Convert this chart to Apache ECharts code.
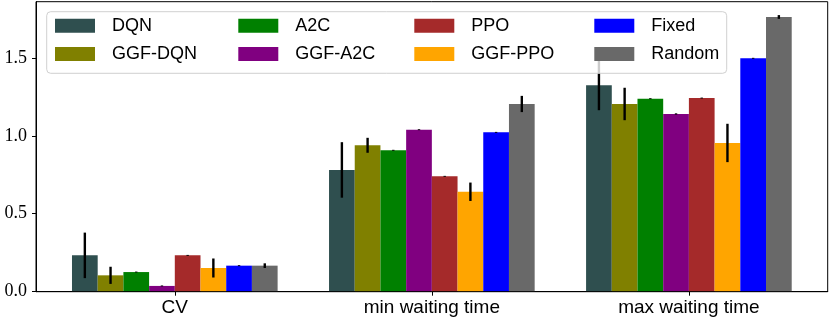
<!DOCTYPE html>
<html>
<head>
<meta charset="utf-8">
<script src="https://cdn.jsdelivr.net/npm/echarts@6/dist/echarts.min.js"></script>
<style>html,body{margin:0;padding:0;background:#fff;}#c{width:830px;height:323px;}</style>
</head>
<body>
<div id="c"></div>
<script>
// ---- data ----
const categories = ['CV', 'min waiting time', 'max waiting time'];
const methods = ['DQN', 'GGF-DQN', 'A2C', 'GGF-A2C', 'PPO', 'GGF-PPO', 'Fixed', 'Random'];
const yTicks = [0, 0.5, 1.0, 1.5];
const dqn      = [0.233, 0.781, 1.324];
const dqnErr   = [0.146, 0.178, 0.160];
const ggfDqn   = [0.105, 0.939, 1.204];
const ggfDqnErr= [0.055, 0.048, 0.104];
const a2c      = [0.126, 0.907, 1.238];
const a2cErr   = [0.003, 0.003, 0.003];
const ggfA2c   = [0.037, 1.039, 1.140];
const ggfA2cErr= [0.003, 0.003, 0.004];
const ppo      = [0.233, 0.740, 1.242];
const ppoErr   = [0.003, 0.003, 0.003];
const ggfPpo   = [0.152, 0.641, 0.954];
const ggfPpoErr= [0.061, 0.059, 0.123];
const fixed    = [0.167, 1.022, 1.497];
const fixedErr = [0.003, 0.003, 0.003];
const random   = [0.167, 1.204, 1.762];
const randomErr= [0.015, 0.052, 0.012];

const values = [dqn, ggfDqn, a2c, ggfA2c, ppo, ggfPpo, fixed, random];
const errors = [dqnErr, ggfDqnErr, a2cErr, ggfA2cErr, ppoErr, ggfPpoErr, fixedErr, randomErr];
const colors = ['#2F4F4F', '#808000', '#008000', '#800080', '#A52A2A', '#FFA500', '#0000FF', '#696969'];

// ---- layout ----
const BAR_W = 0.1;
const n = methods.length;
const barSeries = methods.map((m, k) => ({
  name: m,
  type: 'custom',
  z: 2,
  itemStyle: { color: colors[k] },
  data: values[k].map((v, i) => [i + (k - (n - 1) / 2) * BAR_W, v]),
  renderItem: function (params, api) {
    const x = api.value(0), v = api.value(1);
    const p0 = api.coord([x - BAR_W / 2, v]);
    const p1 = api.coord([x + BAR_W / 2, 0]);
    return {
      type: 'rect',
      shape: { x: p0[0], y: p0[1], width: p1[0] - p0[0], height: p1[1] - p0[1] },
      style: { fill: api.visual('color') }
    };
  }
}));

const errData = [];
methods.forEach((m, k) => {
  values[k].forEach((v, i) => {
    errData.push([i + (k - (n - 1) / 2) * BAR_W, v - errors[k][i], v + errors[k][i]]);
  });
});
const errSeries = {
  name: '_err',
  type: 'custom',
  z: 5,
  silent: true,
  data: errData,
  renderItem: function (params, api) {
    const x = api.value(0);
    const a = api.coord([x, api.value(1)]);
    const b = api.coord([x, api.value(2)]);
    return {
      type: 'line',
      shape: { x1: a[0], y1: a[1], x2: b[0], y2: b[1] },
      style: { stroke: '#000', lineWidth: 2.4, lineCap: 'butt' }
    };
  }
};

// legend: 4 columns x 2 rows, column-major
const colX = [55, 238.3, 414.3, 594.3];
const rowY = [26.7, 55];
const legends = methods.map((m, k) => ({
  data: [m],
  left: colX[Math.floor(k / 2)],
  top: rowY[k % 2] - 10,
  orient: 'vertical',
  icon: 'rect',
  itemWidth: 40,
  itemHeight: 14,
  padding: 0,
  selectedMode: false,
  z: 60,
  textStyle: { fontFamily: 'Liberation Sans', fontSize: 18, color: '#000', padding: [0, 0, 0, 12] }
}));

const chart = echarts.init(document.getElementById('c'), null, { renderer: 'canvas' });
chart.setOption({
  animation: false,
  backgroundColor: '#fff',
  grid: { left: 36, right: 2.3, top: 1.7, bottom: 31.3, show: true, borderColor: '#000', borderWidth: 1, backgroundColor: 'transparent', z: 10 },
  xAxis: {
    type: 'value',
    min: -0.54, max: 2.54,
    splitLine: { show: false },
    axisLine: { show: true, onZero: false, lineStyle: { color: '#000', width: 1 } },
    axisTick: { show: true, length: 4, lineStyle: { color: '#000' }, customValues: [0, 1, 2] },
    axisLabel: {
      customValues: [0, 1, 2],
      formatter: v => categories[Math.round(v)],
      fontFamily: 'Liberation Sans', fontSize: 19, color: '#000', margin: 7
    }
  },
  yAxis: {
    type: 'value',
    min: 0, max: 1.86,
    splitLine: { show: false },
    axisLine: { show: true, onZero: false, lineStyle: { color: '#000', width: 1 } },
    axisTick: { show: true, length: 4, lineStyle: { color: '#000' }, customValues: yTicks },
    axisLabel: {
      customValues: yTicks,
      formatter: v => v.toFixed(1),
      fontFamily: 'Liberation Serif', fontSize: 18, color: '#000', margin: 9
    }
  },
  graphic: [{
    type: 'rect',
    z: 50,
    shape: { x: 46.7, y: 11.7, width: 680, height: 61.6, r: 4 },
    style: { fill: 'rgba(255,255,255,0.8)', stroke: '#d0d0d0', lineWidth: 1 }
  }],
  legend: legends,
  series: barSeries.concat([errSeries])
});
</script>
</body>
</html>
